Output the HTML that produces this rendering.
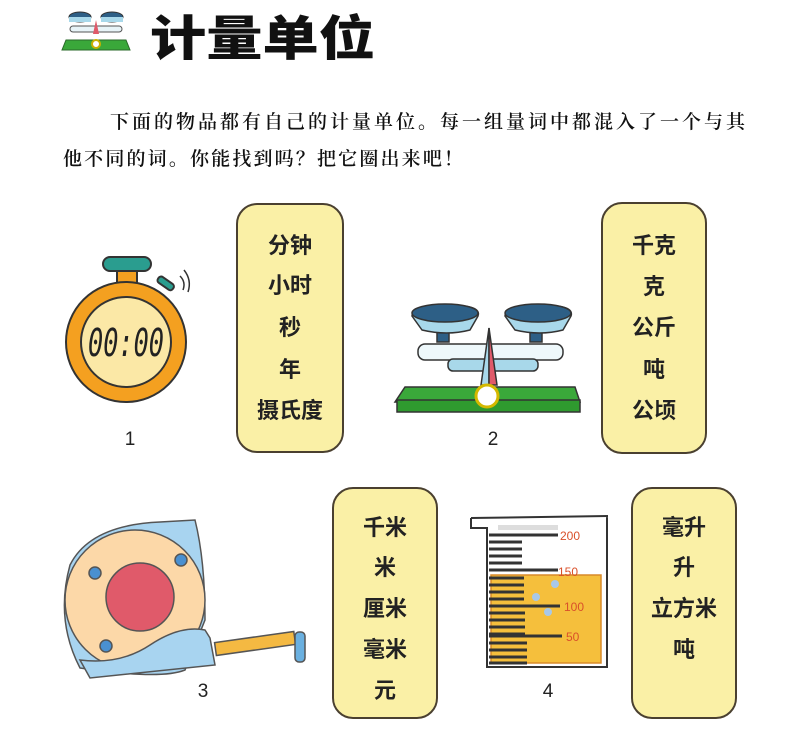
<!DOCTYPE html>
<html><head><meta charset="utf-8"><style>
html,body{margin:0;padding:0;background:#fff;}
svg{display:block;}
.b{font-family:"Liberation Sans","Noto Sans CJK SC",sans-serif;font-weight:bold;font-size:22px;fill:#222;text-anchor:middle;}
.n{font-family:"Liberation Sans",sans-serif;font-size:19px;fill:#222;text-anchor:middle;}
</style></head><body>
<svg width="787" height="736" viewBox="0 0 787 736" xmlns="http://www.w3.org/2000/svg">
<g>
<ellipse cx="80" cy="17" rx="11" ry="5" fill="#2d5f86" stroke="#333"/>
<ellipse cx="112" cy="17" rx="11" ry="5" fill="#2d5f86" stroke="#333"/>
<rect x="69" y="17" width="22" height="5" fill="#a8d8ea"/>
<rect x="101" y="17" width="22" height="5" fill="#a8d8ea"/>
<rect x="70" y="26" width="52" height="6" rx="3" fill="#e8f4f8" stroke="#555"/>
<polygon points="96,20 93,34 99,34" fill="#e05a6a"/>
<polygon points="66,40 126,40 130,50 62,50" fill="#3aa83a" stroke="#2a6a2a"/>
<circle cx="96" cy="44" r="4" fill="#fff" stroke="#c8b000" stroke-width="2"/>
</g>
<text x="150" y="55" font-family="'Liberation Sans','Noto Sans CJK SC',sans-serif" font-weight="900" font-size="48" fill="#111" textLength="225" lengthAdjust="spacingAndGlyphs">计量单位</text>
<text x="110" y="128" font-family="'Liberation Serif','Noto Serif CJK SC',serif" font-weight="600" font-size="19" fill="#111" textLength="635" lengthAdjust="spacing">下面的物品都有自己的计量单位。每一组量词中都混入了一个与其</text>
<text x="63" y="165" font-family="'Liberation Serif','Noto Serif CJK SC',serif" font-weight="600" font-size="19" fill="#111" textLength="400" lengthAdjust="spacing">他不同的词。你能找到吗？把它圈出来吧！</text>

<g fill="#faf0a6" stroke="#4a4030" stroke-width="2">
<rect x="237" y="204" width="106" height="248" rx="20"/>
<rect x="602" y="203" width="104" height="250" rx="20"/>
<rect x="333" y="488" width="104" height="230" rx="20"/>
<rect x="632" y="488" width="104" height="230" rx="20"/>
</g>
<g class="b">
<text x="290" y="253">分钟</text><text x="290" y="293">小时</text><text x="290" y="335">秒</text><text x="290" y="377">年</text><text x="290" y="418">摄氏度</text>
<text x="654" y="253">千克</text><text x="654" y="294">克</text><text x="654" y="335">公斤</text><text x="654" y="377">吨</text><text x="654" y="418">公顷</text>
<text x="385" y="535">千米</text><text x="385" y="575">米</text><text x="385" y="616">厘米</text><text x="385" y="657">毫米</text><text x="385" y="698">元</text>
<text x="684" y="535">毫升</text><text x="684" y="575">升</text><text x="684" y="616">立方米</text><text x="684" y="657">吨</text>
</g>
<g class="n"><text x="130" y="445">1</text><text x="493" y="445">2</text><text x="203" y="697">3</text><text x="548" y="697">4</text></g>

<g stroke="#333" stroke-width="2">
<rect x="103" y="257" width="48" height="14" rx="7" fill="#2a9d8f"/>
<rect x="117" y="271" width="20" height="15" fill="#f4a020"/>
<rect x="157" y="280" width="18" height="7" rx="3" fill="#2a9d8f" transform="rotate(35 166 283)"/>
<circle cx="126" cy="342" r="60" fill="#f4a020"/>
<circle cx="126" cy="342" r="45" fill="#fbe8a6"/>
</g>
<path d="M184 270 Q192 280 188 292 M180 276 Q186 282 183 290" stroke="#333" fill="none" stroke-width="1.5"/>
<text x="126" y="356" font-family="'DejaVu Sans Mono',monospace" font-style="italic" font-size="38" fill="#222" text-anchor="middle" textLength="76" lengthAdjust="spacingAndGlyphs">00:00</text>

<g stroke="#333" stroke-width="1.5">
<rect x="437" y="332" width="12" height="10" fill="#2d5f86"/>
<rect x="530" y="332" width="12" height="10" fill="#2d5f86"/>
<path d="M412 316 Q412 305 447 305 Q482 305 478 316 L470 330 Q447 336 422 330 Z" fill="#a8d8ea"/>
<ellipse cx="445" cy="313" rx="33" ry="9" fill="#2d5f86"/>
<path d="M505 316 Q505 305 540 305 Q575 305 571 316 L563 330 Q540 336 515 330 Z" fill="#a8d8ea"/>
<ellipse cx="538" cy="313" rx="33" ry="9" fill="#2d5f86"/>
<rect x="418" y="344" width="145" height="16" rx="7" fill="#eef8fb"/>
<rect x="448" y="359" width="90" height="12" rx="5" fill="#a8d8ea"/>
<polygon points="489,328 481,385 489,385" fill="#a8d8ea"/>
<polygon points="489,328 497,385 489,385" fill="#e05a6a"/>
<polygon points="405,387 575,387 580,402 395,402" fill="#3aa83a"/>
<rect x="397" y="400" width="183" height="12" fill="#2f9a2f"/>
<circle cx="487" cy="396" r="11" fill="#fff" stroke="#d4b800" stroke-width="3"/>
</g>

<g stroke="#555" stroke-width="1.5">
<rect x="215" y="637" width="80" height="13" fill="#f4b942" transform="rotate(-8 255 643)"/>
<rect x="295" y="632" width="10" height="30" rx="4" fill="#6ab0e0"/>
<path d="M70 565 Q90 525 160 522 L195 520 Q205 560 205 620 L185 670 Q160 680 80 668 Q55 620 70 565 Z" fill="#a8d4f0"/>
<circle cx="135" cy="600" r="70" fill="#fcd8a8"/>
<path d="M210 638 L215 665 L90 678 L80 660 Q120 665 150 645 Q180 625 205 630 Z" fill="#a8d4f0"/>
<circle cx="140" cy="597" r="34" fill="#e05a6a"/>
<circle cx="95" cy="573" r="6" fill="#4a90d0"/>
<circle cx="181" cy="560" r="6" fill="#4a90d0"/>
<circle cx="106" cy="646" r="6" fill="#4a90d0"/>
</g>

<g>
<rect x="491" y="575" width="110" height="88" fill="#f5bf3c" stroke="#d88a2a" stroke-width="1.5"/>
<path d="M471 518 L608 516 M471 518 L471 528 L487 528 L487 667 L607 667 L607 516" stroke="#333" stroke-width="2" fill="none"/>
<rect x="498" y="525" width="60" height="5" fill="#ddd"/>
<g stroke="#333" stroke-width="3">
<line x1="489" y1="535" x2="558" y2="535"/><line x1="489" y1="542" x2="522" y2="542"/><line x1="489" y1="549" x2="522" y2="549"/><line x1="489" y1="556" x2="522" y2="556"/><line x1="489" y1="563" x2="522" y2="563"/>
<line x1="489" y1="570" x2="558" y2="570"/><line x1="489" y1="578" x2="524" y2="578"/><line x1="489" y1="585" x2="524" y2="585"/><line x1="489" y1="592" x2="524" y2="592"/><line x1="489" y1="599" x2="524" y2="599"/>
<line x1="489" y1="606" x2="560" y2="606"/><line x1="489" y1="613" x2="525" y2="613"/><line x1="489" y1="620" x2="525" y2="620"/><line x1="489" y1="627" x2="525" y2="627"/><line x1="489" y1="634" x2="525" y2="634"/>
<line x1="489" y1="636" x2="562" y2="636"/><line x1="489" y1="643" x2="527" y2="643"/><line x1="489" y1="650" x2="527" y2="650"/><line x1="489" y1="657" x2="527" y2="657"/><line x1="489" y1="663" x2="527" y2="663"/>
</g>
<g fill="#a8c8e8"><circle cx="555" cy="584" r="4"/><circle cx="536" cy="597" r="4"/><circle cx="548" cy="612" r="4"/></g>
<g font-family="'Liberation Sans',sans-serif" font-size="12" fill="#d9502a"><text x="560" y="540">200</text><text x="558" y="576">150</text><text x="564" y="611">100</text><text x="566" y="641">50</text></g>
</g>
</svg>
</body></html>
